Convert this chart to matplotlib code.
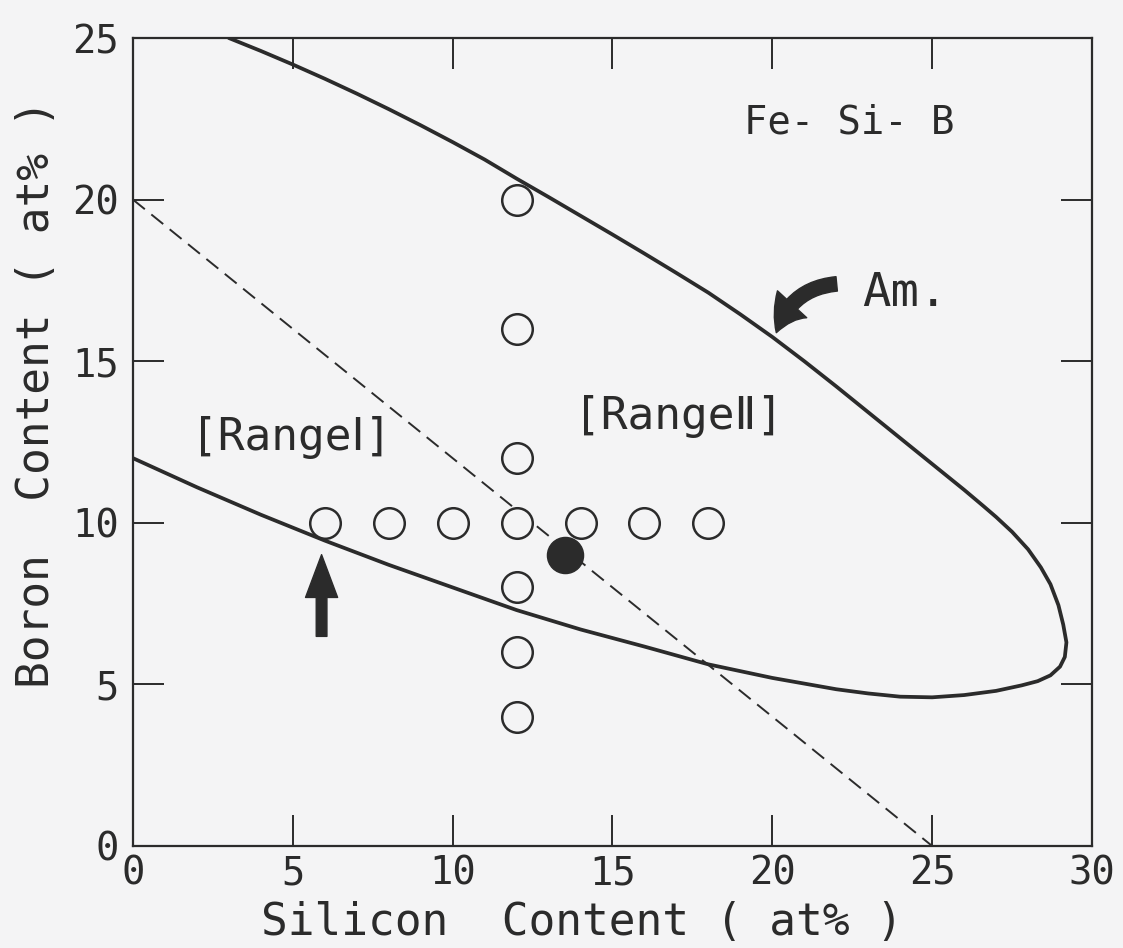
import numpy as np
import matplotlib.pyplot as plt

plt.rcParams['font.family'] = ['DejaVu Sans Mono', 'DejaVu Sans']
plt.rcParams['font.size'] = 30
plt.rcParams['lines.scale_dashes'] = False

ink = '#2b2b2b'
paper = '#f4f4f5'

# amorphous-forming boundary: upper branch from the top edge, round the nose, lower branch back to x=0
am_si = [3.0, 4.0, 5.0, 6.0, 7.0, 8.0, 9.0, 10.0, 11.0, 12.0, 13.0, 14.0, 15.0, 16.0,
         17.0, 18.0, 19.0, 20.0, 21.0, 22.0, 23.0, 24.0, 25.0, 26.0, 26.6, 27.0, 27.5,
         28.0, 28.4, 28.7, 28.95, 29.1, 29.2, 29.15, 29.0, 28.7, 28.3, 27.8, 27.0, 26.0,
         25.0, 24.0, 23.0, 22.0, 20.0, 18.0, 16.0, 14.0, 12.0, 10.0, 8.0, 6.0, 4.0,
         2.0, 0.0]
am_b = [25.0, 24.6, 24.18, 23.74, 23.28, 22.8, 22.3, 21.78, 21.24, 20.65, 20.08, 19.5,
        18.92, 18.33, 17.73, 17.12, 16.45, 15.75, 15.0, 14.22, 13.42, 12.62, 11.82, 11.02,
        10.52, 10.18, 9.72, 9.18, 8.62, 8.1, 7.45, 6.85, 6.3, 5.85, 5.55, 5.28, 5.1, 4.97,
        4.8, 4.67, 4.6, 4.62, 4.72, 4.85, 5.2, 5.62, 6.17, 6.7, 7.3, 8.0, 8.7, 9.45,
        10.25, 11.1, 12.0]

# Range I / Range II border
border_si = [0, 25]
border_b = [20, 0]

# examined alloys
open_si = [6, 8, 10, 12, 14, 16, 18, 12, 12, 12, 12, 12, 12]
open_b = [10, 10, 10, 10, 10, 10, 10, 4, 6, 8, 12, 16, 20]
best_si = [13.5]
best_b = [9.0]

fig = plt.figure(figsize=(11.23, 9.48), dpi=100, facecolor=paper)
ax = fig.add_axes([0.1184, 0.1076, 0.854, 0.8523], facecolor=paper)

ax.plot(border_si, border_b, color=ink, lw=1.4, dashes=(11, 6))
ax.plot(am_si, am_b, color=ink, lw=2.7, solid_capstyle='round', solid_joinstyle='round')
ax.plot(open_si, open_b, 'o', ms=22, mfc=paper, mec=ink, mew=1.8, ls='none')
ax.plot(best_si, best_b, 'o', ms=26, mfc=ink, mec=ink, ls='none')

ax.text(19.1, 22.4, 'Fe- Si- B', fontsize=28, color=ink, va='center')
ax.text(22.8, 17.1, 'Am.', fontsize=34, color=ink, va='center')
ax.text(1.8, 12.65, '[RangeⅠ]', fontsize=32, color=ink, va='center')
ax.text(13.8, 13.3, '[RangeⅡ]', fontsize=32, color=ink, va='center')

ax.annotate('', xy=(20.1, 15.8), xytext=(22.1, 17.4),
            arrowprops=dict(arrowstyle='simple,head_length=0.9,head_width=1.1,tail_width=0.4',
                            connectionstyle='arc3,rad=0.35', color=ink, mutation_scale=26))
ax.annotate('', xy=(5.9, 9.1), xytext=(5.9, 6.4),
            arrowprops=dict(arrowstyle='simple,head_length=1.4,head_width=1.05,tail_width=0.35',
                            color=ink, mutation_scale=22))

ax.set_xlim(0, 30)
ax.set_ylim(0, 25)
ax.set_xticks(np.arange(0, 31, 5))
ax.set_yticks(np.arange(0, 26, 5))
ax.tick_params(direction='in', length=22, width=1.4, color=ink, labelcolor=ink,
               top=True, right=True, labelsize=28)
ax.tick_params(axis='x', pad=6)
ax.tick_params(axis='y', pad=10)
for s in ax.spines.values():
    s.set_color(ink)
    s.set_linewidth(1.6)

ax.set_xlabel('Silicon  Content ( at% )', color=ink, fontsize=32)
ax.xaxis.set_label_coords(0.468, -0.068)
ax.set_ylabel('Boron  Content ( at% )', color=ink, fontsize=32)
ax.yaxis.set_label_coords(-0.078, 0.56)

fig.savefig('out.png', dpi=100, facecolor=paper)
